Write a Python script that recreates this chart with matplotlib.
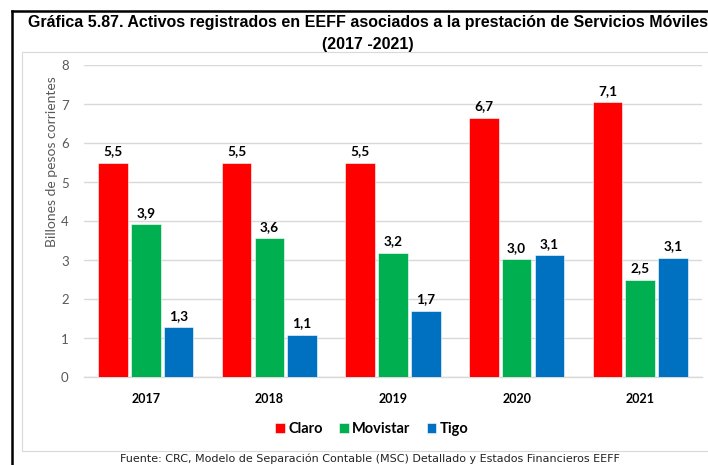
import numpy as np
import matplotlib
matplotlib.use("Agg")
import matplotlib.pyplot as plt
from matplotlib.patches import Rectangle
from matplotlib.lines import Line2D

# Datos
anios = ["2017", "2018", "2019", "2020", "2021"]
claro = [5.51, 5.51, 5.51, 6.66, 7.06]
movistar = [3.93, 3.57, 3.20, 3.03, 2.50]
tigo = [1.29, 1.10, 1.71, 3.13, 3.07]
empresas = ["Claro", "Movistar", "Tigo"]
colores = ["#FF0000", "#00B050", "#0070C0"]

titulo1 = "Gráfica 5.87. Activos registrados en EEFF asociados a la prestación de Servicios Móviles"
titulo2 = "(2017 -2021)"
fuente = "Fuente: CRC, Modelo de Separación Contable (MSC) Detallado y Estados Financieros EEFF"

W, H = 708, 465
fig = plt.figure(figsize=(W / 100, H / 100), dpi=100)

def fx(px):
    return px / W

def fy(py):
    return 1 - py / H

# marco negro y recuadro gris
fig.add_artist(Line2D([fx(12), fx(12)], [fy(11), 0], color="black", lw=1.8, transform=fig.transFigure))
fig.add_artist(Line2D([fx(12), 1.0], [fy(11), fy(11)], color="black", lw=1.8, transform=fig.transFigure))
fig.add_artist(Rectangle((fx(22), fy(451)), 1.0, fy(52) - fy(451), fill=False,
                         edgecolor="#D9D9D9", lw=0.8, transform=fig.transFigure))

ax = fig.add_axes([fx(84), fy(377.5), fx(702) - fx(84), fy(65.5) - fy(377.5)])

x = np.arange(len(anios))
ancho = 0.24
paso = 0.265
series = [claro, movistar, tigo]
barras = []
for i, serie in enumerate(series):
    b = ax.bar(x + (i - 1) * paso, serie, width=ancho, color=colores[i],
               edgecolor="white", linewidth=0.4, label=empresas[i], zorder=3)
    barras.append(b)
    for xi, v in zip(x + (i - 1) * paso, serie):
        ax.annotate(f"{v:.1f}".replace(".", ","), (xi, v), xytext=(0, 4),
                    textcoords="offset points", ha="center", va="bottom",
                    fontsize=9.8, fontweight="bold", family="Lato", color="black")

ax.set_xlim(-0.5, len(anios) - 0.5)
ax.set_ylim(0, 8)
ax.set_yticks(range(0, 9))
ax.yaxis.grid(True, color="#D9D9D9", lw=1.0, zorder=0)
ax.set_axisbelow(True)
for s in ["top", "right", "left"]:
    ax.spines[s].set_visible(False)
ax.spines["bottom"].set_color("#D9D9D9")
ax.spines["bottom"].set_linewidth(1.0)
ax.tick_params(axis="both", length=0)
ax.tick_params(axis="y", pad=11, labelcolor="#595959", labelsize=9.5)
ax.tick_params(axis="x", pad=11, labelsize=9)
ax.set_xticks(x)
ax.set_xticklabels(anios, fontweight="bold", family="Lato")
for t in ax.get_yticklabels():
    t.set_family("Lato")

fig.text(fx(52), fy(162), "Billones de pesos corrientes", rotation=90, ha="center", va="center",
         fontsize=10, color="#595959", family="Lato")

# el titulo original queda cortado por el borde derecho
fig.text(fx(368), fy(22), titulo1, ha="center", va="center", fontsize=11.55,
         fontweight="bold", family="Liberation Sans")
fig.text(fx(368), fy(45), titulo2, ha="center", va="center", fontsize=11.55,
         fontweight="bold", family="Liberation Sans")

fig.legend(handles=barras, labels=empresas, loc="center", bbox_to_anchor=(fx(372), fy(429)),
           ncol=3, frameon=False, handlelength=0.65, handleheight=0.65, handletextpad=0.25,
           columnspacing=1.1, prop={"family": "Lato", "weight": "bold", "size": 10.5})

fig.text(fx(370), fy(459), fuente, ha="center", va="center", fontsize=8.0,
         family="DejaVu Sans", color="#222222")

fig.savefig("out.png", dpi=100)
